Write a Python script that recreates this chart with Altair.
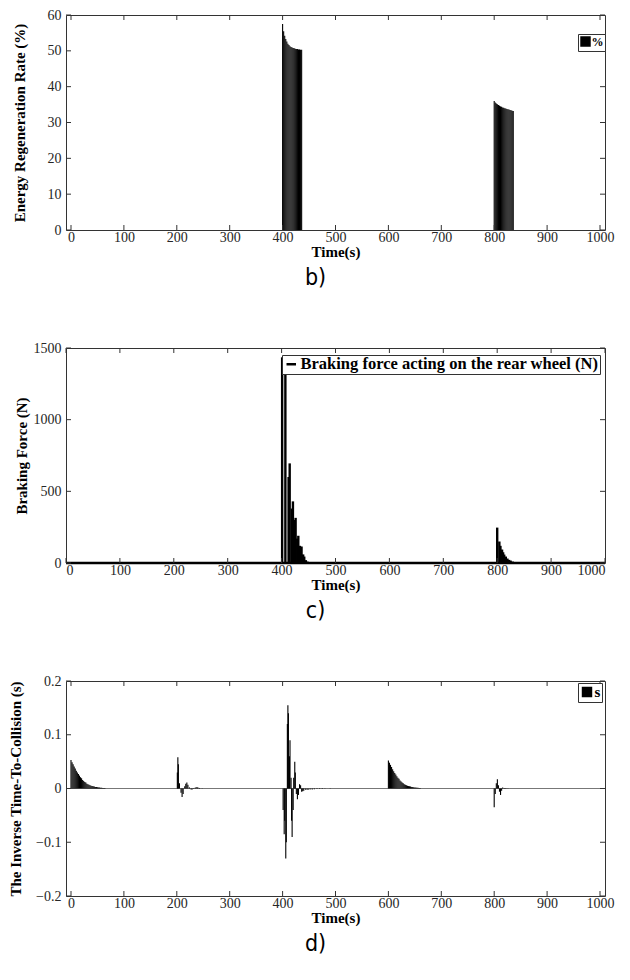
import altair as alt
import pandas as pd

W, H = 539, 215

time_ticks = [0, 100, 200, 300, 400, 500, 600, 700, 800, 900, 1000]
b_ticks = [0, 10, 20, 30, 40, 50, 60]
c_ticks = [0, 500, 1000, 1500]
d_ticks = [-0.2, -0.1, 0, 0.1, 0.2]

# b) Energy regeneration rate (%)
b_t1 = [400, 402, 404, 406, 408, 410, 412, 414, 416, 418, 420, 422, 424, 426, 428, 430, 432, 434, 436]
b_v1 = [57.5, 55.5, 54.2, 53.3, 52.6, 52.0, 51.6, 51.3, 51.1, 50.9, 50.8, 50.7, 50.6, 50.5, 50.5, 50.4, 50.4, 50.3, 50.3]
b_t2 = [800, 802, 804, 806, 808, 810, 812, 814, 816, 818, 820, 822, 824, 826, 828, 830, 832, 834, 836]
b_v2 = [36.0, 35.6, 35.3, 35.1, 34.9, 34.7, 34.5, 34.4, 34.2, 34.1, 34.0, 33.9, 33.8, 33.7, 33.6, 33.5, 33.4, 33.3, 33.2]

# c) Braking force (N)
c_t1 = [401, 407, 413, 415, 419, 421, 424, 426, 429, 431, 434, 437, 440, 442, 445, 448]
c_v1 = [1435, 1335, 600, 695, 380, 430, 300, 315, 170, 190, 120, 115, 60, 45, 20, 10]
c_t2 = [800, 804, 806, 809, 811, 813, 816, 819, 822, 825, 829, 834]
c_v2 = [247, 150, 120, 94, 75, 59, 45, 31, 22, 17, 10, 5]

# d) Inverse time-to-collision (s)
d_t0 = [0, 2, 4, 6, 8, 10, 12, 14, 16, 18, 20, 22, 24, 26, 28, 30, 32, 34, 36, 38, 40, 42, 44, 46, 48, 50, 52, 54, 56, 58, 60, 62, 64]
d_v0 = [0.053, 0.049, 0.045, 0.041, 0.037, 0.033, 0.030, 0.027, 0.024, 0.021, 0.019, 0.016, 0.014, 0.012, 0.011, 0.009, 0.008,
        0.007, 0.006, 0.005, 0.0045, 0.004, 0.0035, 0.003, 0.0027, 0.0024, 0.002, 0.0018, 0.0015, 0.0013, 0.0011, 0.001, 0.0008]
d_t200 = [201, 202, 203, 205, 208, 210, 212, 215, 217, 219, 221, 224, 227, 229, 232, 235, 238, 240, 243, 248]
d_v200 = [0.03, 0.058, 0.045, 0.01, -0.008, -0.016, -0.01, 0.004, 0.009, 0.011, 0.007, 0.002, -0.002, -0.002, 0.001, 0.002,
          0.003, 0.002, 0.001, 0.0005]
d_t400 = [401, 403, 404, 406, 407, 409, 410, 411, 413, 414, 416, 417, 418, 420, 421, 423, 424, 426, 428, 430, 432, 434, 436,
          438, 440, 444, 448, 452, 456, 460, 465, 470, 475, 480, 490]
d_v400 = [-0.04, -0.085, -0.06, -0.13, -0.1, 0.12, 0.155, 0.14, 0.06, 0.09, 0.02, -0.06, -0.09, -0.04, 0.02, 0.05, 0.03,
          -0.01, -0.02, -0.012, 0.008, 0.006, -0.006, -0.005, -0.004, -0.003, -0.003, -0.002, -0.002, -0.0015, -0.001,
          -0.001, -0.0008, -0.0005, -0.0003]
d_t600 = [600, 602, 604, 606, 608, 610, 612, 614, 616, 618, 620, 622, 624, 626, 628, 630, 632, 634, 636, 638, 640, 642, 644,
          646, 648, 650, 652, 654, 656, 658, 660]
d_v600 = [0.052, 0.048, 0.044, 0.040, 0.036, 0.032, 0.029, 0.026, 0.023, 0.020, 0.018, 0.015, 0.013, 0.011, 0.010, 0.008,
          0.007, 0.006, 0.005, 0.0045, 0.004, 0.0035, 0.003, 0.0026, 0.0022, 0.002, 0.0017, 0.0014, 0.0012, 0.001, 0.0008]
d_t800 = [800, 802, 804, 806, 808, 810, 812, 814, 816, 819, 822, 826]
d_v800 = [-0.035, -0.01, 0.01, 0.017, 0.006, -0.006, -0.012, -0.004, 0.002, 0.001, -0.001, 0.0005]

SERIF = "Liberation Serif"
CAP_FONT = "Liberation Sans Narrow, DejaVu Sans Condensed, Roboto, sans-serif"
FRAME = "#333333"


def xenc(title="Time(s)"):
    return alt.X("t:Q", title=title,
                 scale=alt.Scale(domain=[0, 1000], nice=False, zero=False),
                 axis=alt.Axis(values=time_ticks, labelPadding=0, titlePadding=0, format="d"))


def yenc(title, dom, ticks, tpad, fmt):
    return alt.Y("v:Q", title=title,
                 scale=alt.Scale(domain=dom, nice=False, zero=False),
                 axis=alt.Axis(values=ticks, labelPadding=5, titlePadding=tpad, format=fmt))


def tick_layers(ytitle, dom, yt, tpad, fmt):
    xdf = pd.DataFrame({"t": time_ticks})
    ydf = pd.DataFrame({"v": yt})
    X = xenc()
    Y = yenc(ytitle, dom, yt, tpad, fmt)
    bot = alt.Chart(xdf).mark_rule(color=FRAME).encode(x=X, y=alt.value(H), y2=alt.value(H - 5))
    top = alt.Chart(xdf).mark_rule(color=FRAME).encode(x=X, y=alt.value(0), y2=alt.value(5))
    lef = alt.Chart(ydf).mark_rule(color=FRAME).encode(y=Y, x=alt.value(0), x2=alt.value(5))
    rig = alt.Chart(ydf).mark_rule(color=FRAME).encode(y=Y, x=alt.value(W - 5), x2=alt.value(W))
    return [bot, top, lef, rig]


def caption(txt):
    return alt.TitleParams(txt, orient="bottom", anchor="middle", font=CAP_FONT, fontSize=23,
                           fontWeight="normal", color="black", offset=8, dx=-20)


B_TP, C_TP, D_TP = 20, 4, 12

# ---- panel b
bdf = pd.concat([pd.DataFrame({"t": b_t1, "v": b_v1}), pd.DataFrame({"t": b_t2, "v": b_v2})])
bdf["s"] = "%"
b_title = "Energy Regeneration Rate (%)"
b_bars = alt.Chart(bdf).mark_bar(size=1.1, color="black").encode(
    x=xenc(), y=yenc(b_title, [0, 60], b_ticks, B_TP, "d"), y2=alt.datum(0),
    color=alt.Color("s:N", scale=alt.Scale(range=["black"]),
                    legend=alt.Legend(title=None, orient="none", legendX=512, legendY=19, labelFontSize=12,
                                      symbolType="square", symbolSize=80, symbolFillColor="black",
                                      symbolStrokeColor="black", labelOffset=0)))
panel_b = alt.layer(b_bars, *tick_layers(b_title, [0, 60], b_ticks, B_TP, "d")).properties(
    width=W, height=H, title=caption("b)"))

# ---- panel c
cdf = pd.concat([pd.DataFrame({"t": c_t1, "v": c_v1}), pd.DataFrame({"t": c_t2, "v": c_v2})])
cdf["s"] = "Braking force acting on the rear wheel (N)"
c_title = "Braking Force (N)"
c_zero = alt.Chart(pd.DataFrame({"t": [0, 1000], "v": [0, 0]})).mark_line(color="black", strokeWidth=2.5).encode(
    x=xenc(), y=yenc(c_title, [0, 1500], c_ticks, C_TP, "d"))
c_bars = alt.Chart(cdf).mark_rule(strokeWidth=2.4, color="black").encode(
    x=xenc(), y=yenc(c_title, [0, 1500], c_ticks, C_TP, "d"), y2=alt.datum(0),
    color=alt.Color("s:N", scale=alt.Scale(range=["black"]),
                    legend=alt.Legend(title=None, orient="none", legendX=216, legendY=7, labelLimit=400,
                                      labelFontSize=16.5, padding=1,
                                      symbolType="stroke", symbolSize=90, symbolStrokeWidth=2.5,
                                      symbolStrokeColor="black")))
panel_c = alt.layer(c_zero, c_bars, *tick_layers(c_title, [0, 1500], c_ticks, C_TP, "d")).properties(
    width=W, height=H, title=caption("c)"))

# ---- panel d
ddf = pd.concat([pd.DataFrame({"t": d_t0, "v": d_v0}), pd.DataFrame({"t": d_t200, "v": d_v200}),
                 pd.DataFrame({"t": d_t400, "v": d_v400}), pd.DataFrame({"t": d_t600, "v": d_v600}),
                 pd.DataFrame({"t": d_t800, "v": d_v800})])
ddf["s"] = "s"
d_title = "The Inverse Time-To-Collision (s)"
d_zero = alt.Chart(pd.DataFrame({"t": [0, 1000], "v": [0, 0]})).mark_line(color="#777777", strokeWidth=1.2).encode(
    x=xenc(), y=yenc(d_title, [-0.2, 0.2], d_ticks, D_TP, ".1~f"))
d_bars = alt.Chart(ddf).mark_bar(size=1.1, color="black").encode(
    x=xenc(), y=yenc(d_title, [-0.2, 0.2], d_ticks, D_TP, ".1~f"), y2=alt.datum(0),
    color=alt.Color("s:N", scale=alt.Scale(range=["black"]),
                    legend=alt.Legend(title=None, orient="none", legendX=512, legendY=2,
                                      symbolType="square", symbolSize=80, symbolFillColor="black",
                                      symbolStrokeColor="black", labelOffset=0)))
panel_d = alt.layer(d_zero, d_bars, *tick_layers(d_title, [-0.2, 0.2], d_ticks, D_TP, ".1~f")).properties(
    width=W, height=H, title=caption("d)"))

chart = alt.vconcat(panel_b, panel_c, panel_d, spacing=118, bounds="flush").resolve_scale(
    color="independent", x="independent", y="independent"
).resolve_legend(color="independent").properties(
    padding={"left": 0, "top": -1, "right": 5, "bottom": 5}
).configure_view(stroke=FRAME, strokeWidth=1).configure_axis(
    labelFont=SERIF, labelFontSize=14, labelColor="#262626", titleFont=SERIF, titleFontSize=15,
    titleFontWeight="bold", titleColor="black", ticks=False, domain=False, grid=False
).configure_legend(
    labelFont=SERIF, labelFontSize=15, labelFontWeight="bold", labelColor="black",
    strokeColor=FRAME, fillColor="white", padding=1.5, labelOffset=1, cornerRadius=0
)

chart.save("out.html", embed_options={"renderer": "svg", "actions": False})
